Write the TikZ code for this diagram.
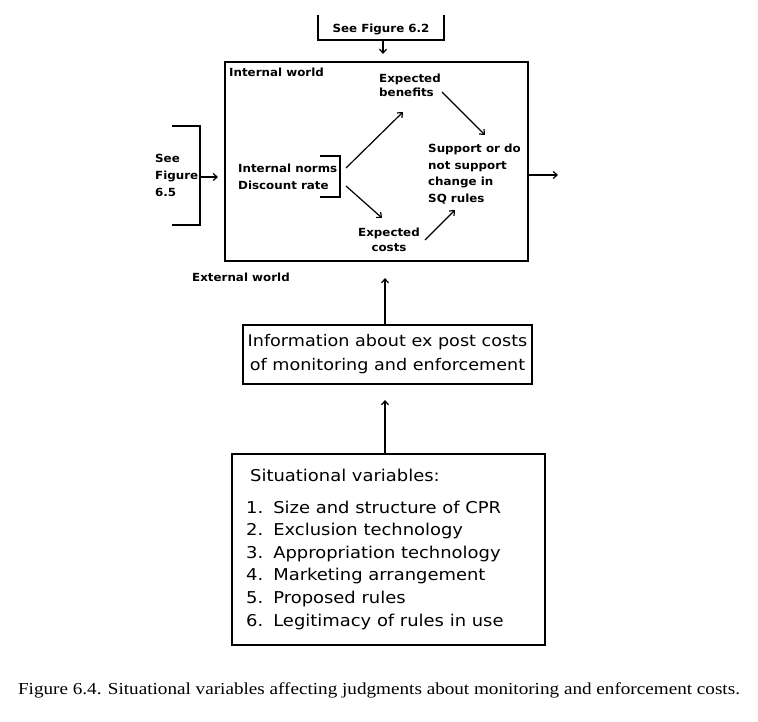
\documentclass[tikz,border=0pt]{standalone}
\usepackage{fontspec}
\setmainfont{DejaVu Sans}
\newfontfamily\widefont[FakeStretch=1.1]{DejaVu Sans}
\newfontfamily\lblfont[FakeStretch=1.06]{DejaVu Sans}
\newfontfamily\capfont[FakeStretch=1.14]{Liberation Serif}
\usetikzlibrary{arrows.meta}
\tikzset{
  ln/.style={line width=1.2pt},
  arr/.style={line width=1.2pt,-{Straight Barb[length=4pt,width=7pt]}},
  lbl/.style={inner sep=0pt,font=\lblfont\fontsize{11.2}{16.7}\selectfont\bfseries,align=left},
  big/.style={inner sep=0pt,font=\widefont\fontsize{16}{24}\selectfont,align=center},
  box/.style={draw,line width=1.2pt,inner sep=0pt}
}
\begin{document}
\begin{tikzpicture}[x=1pt,y=-1pt]
\useasboundingbox (0,0) rectangle (758,722);
% See Figure 6.2
\node[lbl] (f62) at (381,29) {See Figure 6.2};
\draw[ln] (318,15) -- (318,40) -- (444,40) -- (444,15);
\coordinate (f62b) at (383,41);
\coordinate (f62e) at (383,54);
\draw[arr] (f62b) -- (f62e);
% internal world box
\node[box,minimum width=303pt,minimum height=199pt] (iw) at (376.5,161.5) {};
\node[lbl,anchor=west] (iwl) at (229,72) {Internal world};
\node[lbl,anchor=west,font=\lblfont\fontsize{11.2}{14}\selectfont\bfseries] (eb) at (379,85) {Expected\\benefits};
\node[lbl,anchor=west] (norms) at (238,176.5) {Internal norms\\Discount rate};
\draw[ln] (320,156) -- (340,156) -- (340,197) -- (320,197);
\node[lbl,align=center,font=\lblfont\fontsize{11.2}{15}\selectfont\bfseries] (ec) at (389,239.5) {Expected\\costs};
\node[lbl,anchor=west] (sup) at (428,174) {Support or do\\not support\\change in\\SQ rules};
\coordinate (n1) at (346,168);
\coordinate (eb1) at (403,112);
\coordinate (n2) at (346,186);
\coordinate (ec1) at (382,218);
\coordinate (ec2) at (425,240);
\coordinate (s1) at (455,210);
\coordinate (eb2) at (442,92);
\coordinate (s2) at (485,135);
\draw[arr] (n1) -- (eb1);
\draw[arr] (n2) -- (ec1);
\draw[arr] (ec2) -- (s1);
\draw[arr] (eb2) -- (s2);
\coordinate (out) at (558,175);
\draw[arr] (iw.east |- out) -- (out);
% See Figure 6.5
\node[lbl,anchor=west] (f65) at (155,175.5) {See\\Figure\\6.5};
\draw[ln] (172,126) -- (200,126) -- (200,225) -- (172,225);
\coordinate (f65a) at (200,177);
\coordinate (f65b) at (218,177);
\draw[arr] (f65a) -- (f65b);
\node[lbl,anchor=west] (ew) at (192,277) {External world};
% info box
\node[box,big,minimum width=289pt,minimum height=59pt] (info) at (387.5,354.5) {Information about ex post costs\\of monitoring and enforcement};
\coordinate (up1) at (385,278);
\draw[arr] (info.north -| up1) -- (up1);
% situational box
\node[box,minimum width=313pt,minimum height=191pt] (sit) at (388.5,549.5) {};
\node[inner sep=0pt,anchor=west,font=\widefont\fontsize{16.3}{20}\selectfont] (svh) at (250,475) {Situational variables:};
\node[inner sep=0pt,anchor=north west,font=\widefont\fontsize{16.3}{22.6}\selectfont] (svl) at (246,497) {%
\begin{tabular}{@{}r@{\hspace{10pt}}l@{}}
1. & Size and structure of CPR\\
2. & Exclusion technology\\
3. & Appropriation technology\\
4. & Marketing arrangement\\
5. & Proposed rules\\
6. & Legitimacy of rules in use
\end{tabular}};
\coordinate (up2) at (385,400);
\draw[arr] (sit.north -| up2) -- (up2);
% caption
\node[inner sep=0pt,font=\capfont\fontsize{16.8}{20}\selectfont] (cap) at (379,690) {Figure 6.4. Situational variables affecting judgments about monitoring and enforcement costs.};
\end{tikzpicture}
\end{document}
